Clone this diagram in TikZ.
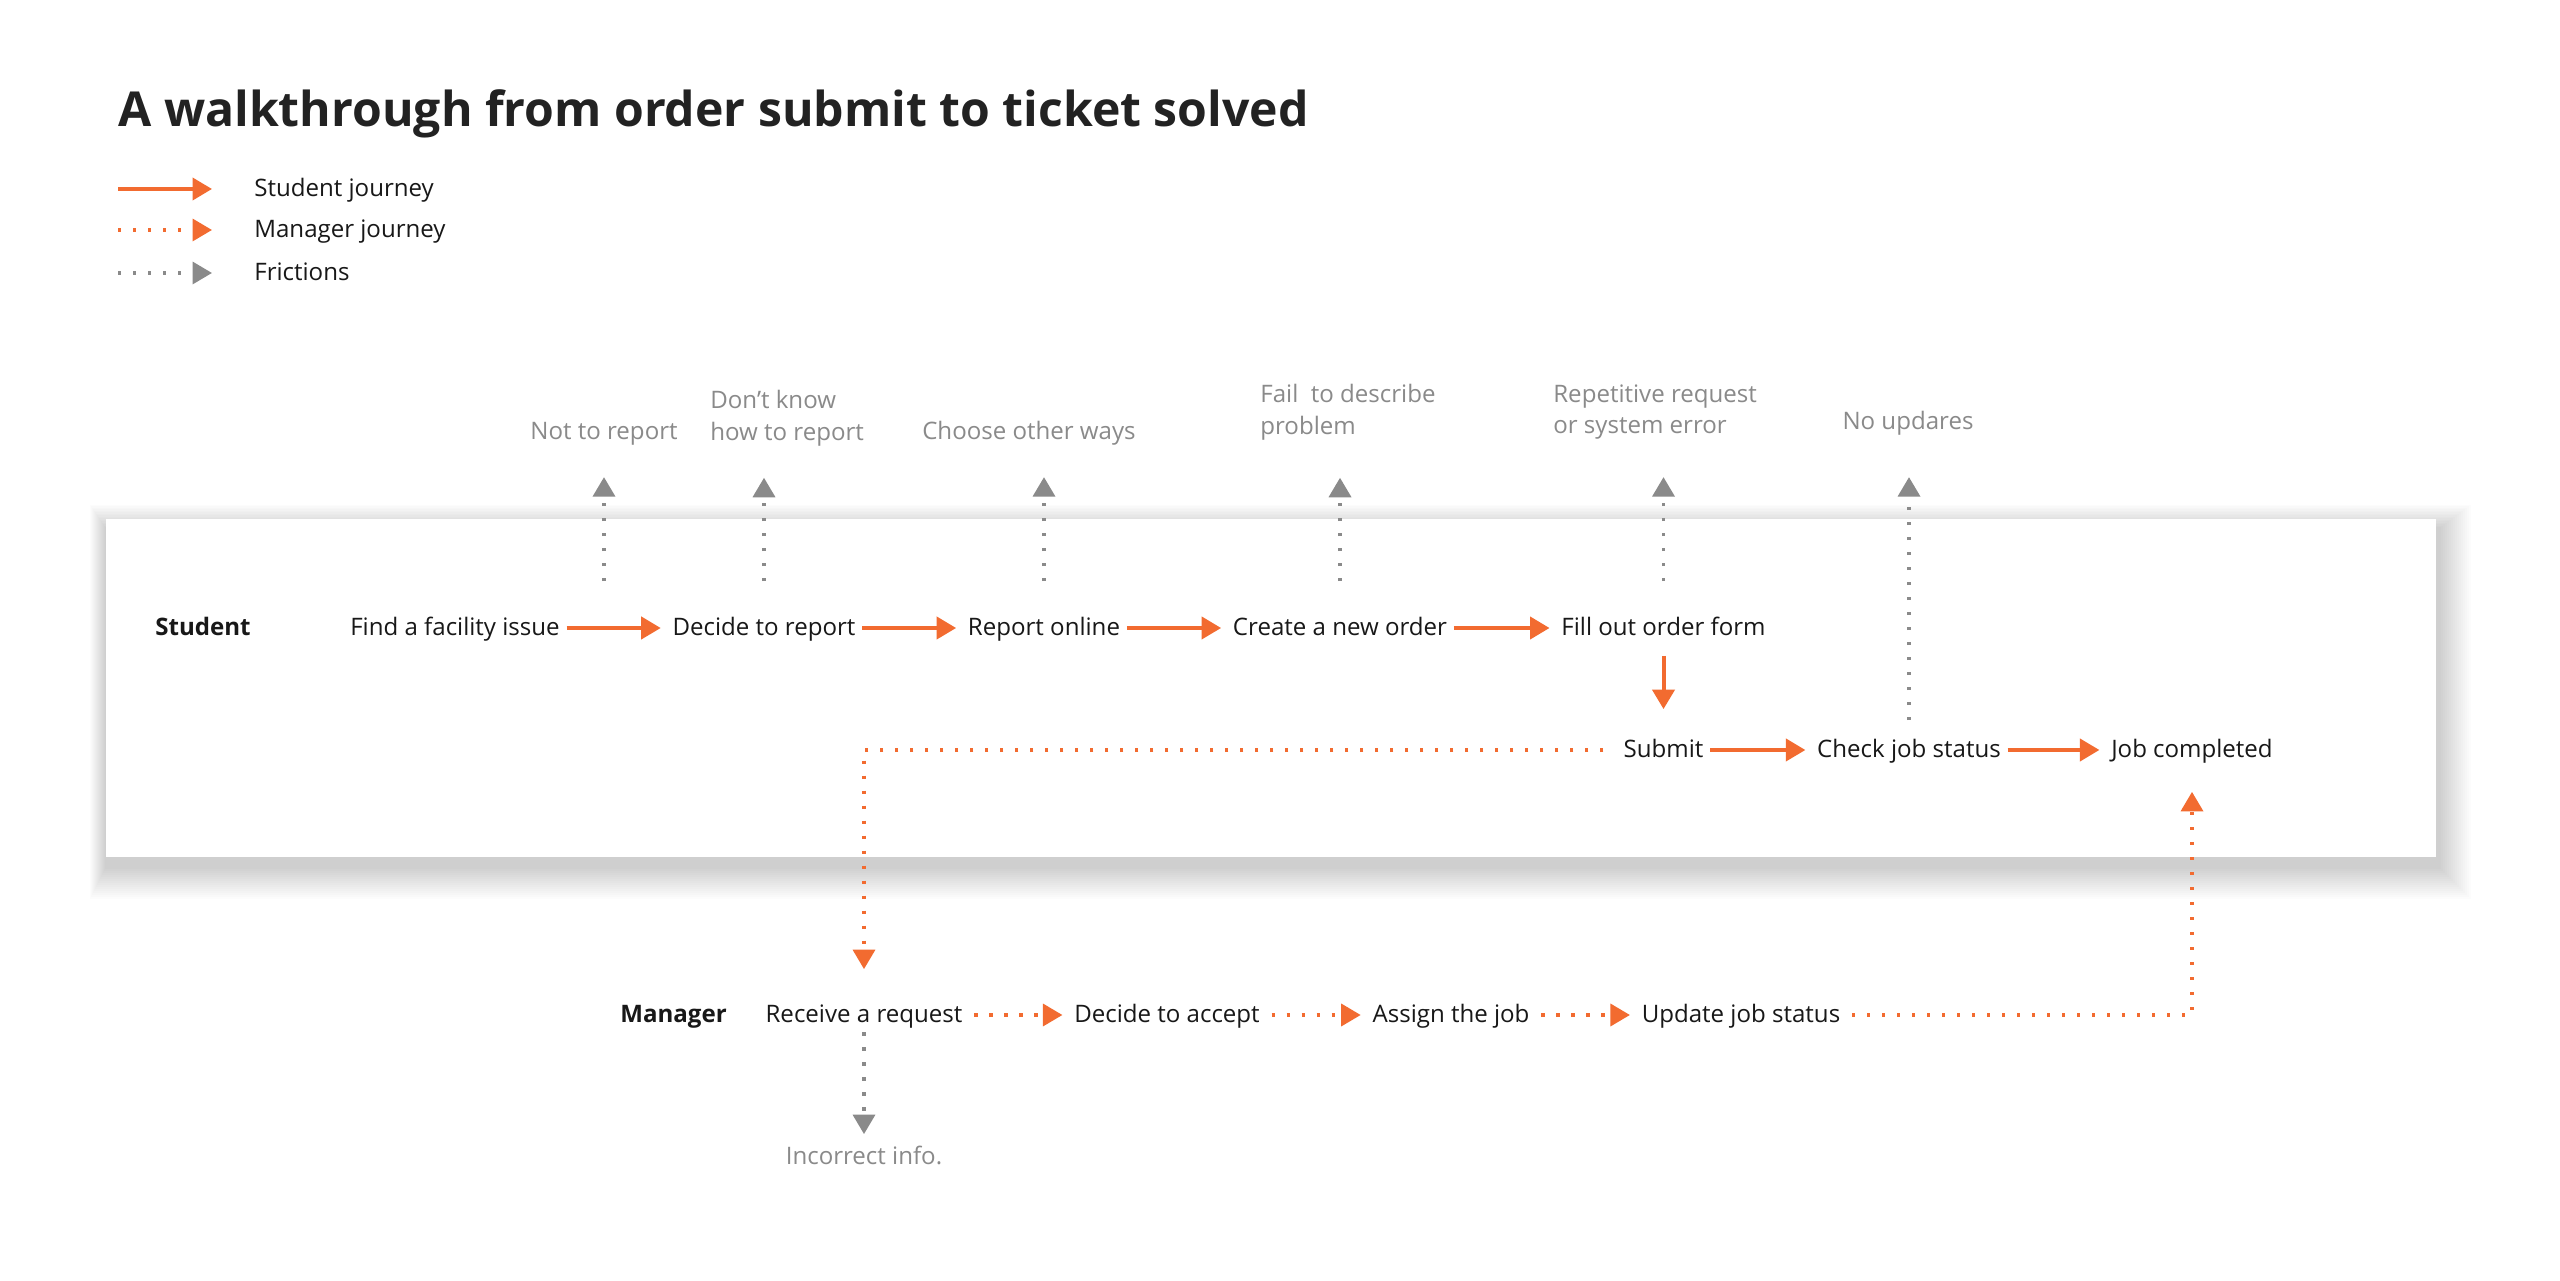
\documentclass[tikz,border=0pt]{standalone}
\usepackage{fontspec}
\setmainfont{Open Sans}
\usetikzlibrary{arrows.meta,calc}

\definecolor{journey}{RGB}{242,107,48}
\definecolor{frictiongray}{RGB}{138,138,138}
\definecolor{inktext}{RGB}{24,24,24}
\definecolor{titleink}{RGB}{34,34,34}

\begin{document}
\begin{tikzpicture}[font=\fontsize{13.7}{18.2}\selectfont,
  act/.style={text=inktext, text height=0.8em, text depth=0pt, inner xsep=0.13cm, inner ysep=0.1cm},
  lane/.style={act, font=\fontsize{13.7}{18.2}\selectfont\bfseries, anchor=west},
  pain/.style={text=frictiongray, align=left, inner sep=0.1cm},
  tip/.style={-{Triangle[width=0.44cm,length=0.39cm]}},
  student/.style={tip, draw=journey, line width=0.08cm, shorten >=0.1cm},
  manager/.style={tip, draw=journey, line width=0.07cm, dash pattern=on 0.065cm off 0.235cm, shorten <=0.1cm, shorten >=0.1cm},
  friction/.style={tip, draw=frictiongray, line width=0.07cm, dash pattern=on 0.065cm off 0.235cm}]

  \useasboundingbox (0,0) rectangle (51.2,25.6);
  \fill[white] (0,0) rectangle (51.2,25.6);

  % Title and legend
  \node[anchor=base west, font=\fontsize{27.4}{32}\selectfont\bfseries, text=titleink, inner sep=0] (title) at (2.36,23.06) {A walkthrough from order submit to ticket solved};

  \coordinate (lgs) at (2.36,21.82);
  \coordinate (lgm) at (2.36,21.0);
  \coordinate (lgf) at (2.36,20.14);
  \node[act, anchor=west, inner xsep=0] (lgstudent) at (5.08,21.82) {Student journey};
  \node[act, anchor=west, inner xsep=0] (lgmanager) at (5.08,21.0) {Manager journey};
  \node[act, anchor=west, inner xsep=0] (lgfriction) at (5.08,20.14) {Frictions};
  \draw[student, shorten >=0.84cm] (lgs) -- (lgstudent.west);
  \draw[manager, shorten <=0pt, shorten >=0.84cm] (lgm) -- (lgmanager.west);
  \draw[friction, shorten >=0.84cm] (lgf) -- (lgfriction.west);

  % Student panel with soft shadow
  \coordinate (panelsw) at (2.12,8.46);
  \coordinate (panelne) at (48.72,15.22);
  \foreach \i in {1,...,16} {
    \fill[black, opacity=0.0105] ($(panelsw)+(-\i*0.02,-0.2-\i*0.04)$) rectangle ($(panelne)+(0.05+\i*0.04,-0.2+\i*0.03)$);
  }
  \fill[white] (panelsw) rectangle (panelne);

  % Student journey
  \node[lane] (studentlane) at (2.97,13.04) {Student};
  \node[act] (find) at (9.10,13.04) {Find a facility issue};
  \node[act] (decide) at (15.28,13.04) {Decide to report};
  \node[act] (online) at (20.88,13.04) {Report online};
  \node[act] (create) at (26.80,13.04) {Create a new order};
  \node[act] (fill) at (33.27,13.04) {Fill out order form};
  \node[act] (submit) at (33.27,10.60) {Submit};
  \node[act] (check) at (38.18,10.60) {Check job status};
  \node[act] (jobdone) at (43.84,10.60) {Job completed};

  \draw[student] (find) -- (decide);
  \draw[student] (decide) -- (online);
  \draw[student] (online) -- (create);
  \draw[student] (create) -- (fill);
  \draw[student, shorten <=0.31cm, shorten >=0.57cm] (fill) -- (submit);
  \draw[student] (submit) -- (check);
  \draw[student] (check) -- (jobdone);

  % Frictions of the student
  \node[pain, anchor=base] (notreport) at (12.08,16.8) {Not to report};
  \node[pain, anchor=north west] (dontknow) at (14.1,17.9) {Don’t know\\how to report};
  \node[pain, anchor=base] (otherways) at (20.58,16.8) {Choose other ways};
  \node[pain, anchor=north west] (describe) at (25.1,18.02) {Fail\ \ to describe\\problem};
  \node[pain, anchor=north west] (repetitive) at (30.96,18.02) {Repetitive request\\or system error};
  \node[pain, anchor=base] (noupdates) at (38.16,17.0) {No updares};

  \draw[friction, shorten <=0.69cm, shorten >=0.52cm] (notreport.south |- find.north) -- (notreport.south);
  \draw[friction, shorten <=0.69cm, shorten >=0.52cm] (decide.north) -- (decide.north |- dontknow.south);
  \draw[friction, shorten <=0.69cm, shorten >=0.52cm] (online.north) -- (online.north |- otherways.south);
  \draw[friction, shorten <=0.69cm, shorten >=0.64cm] (create.north) -- (create.north |- describe.south);
  \draw[friction, shorten <=0.69cm, shorten >=0.64cm] (fill.north) -- (fill.north |- repetitive.south);
  \draw[friction, shorten <=0.35cm, shorten >=0.72cm] (check.north) -- (check.north |- noupdates.south);

  % Manager journey
  \node[lane] (managerlane) at (12.27,5.30) {Manager};
  \node[act] (receive) at (17.28,5.30) {Receive a request};
  \node[act] (accept) at (23.34,5.30) {Decide to accept};
  \node[act] (assign) at (29.02,5.30) {Assign the job};
  \node[act] (update) at (34.82,5.30) {Update job status};
  \node[act, text=frictiongray] (incorrect) at (17.28,2.45) {Incorrect info.};

  \draw[manager, shorten <=0.27cm, shorten >=0.67cm] (submit) -| (receive);
  \draw[manager] (receive) -- (accept);
  \draw[manager] (accept) -- (assign);
  \draw[manager] (assign) -- (update);
  \draw[manager, shorten >=0.59cm] (update) -| (jobdone);
  \draw[friction, shorten <=0.1cm, shorten >=0.22cm] (receive) -- (incorrect);
\end{tikzpicture}
\end{document}
